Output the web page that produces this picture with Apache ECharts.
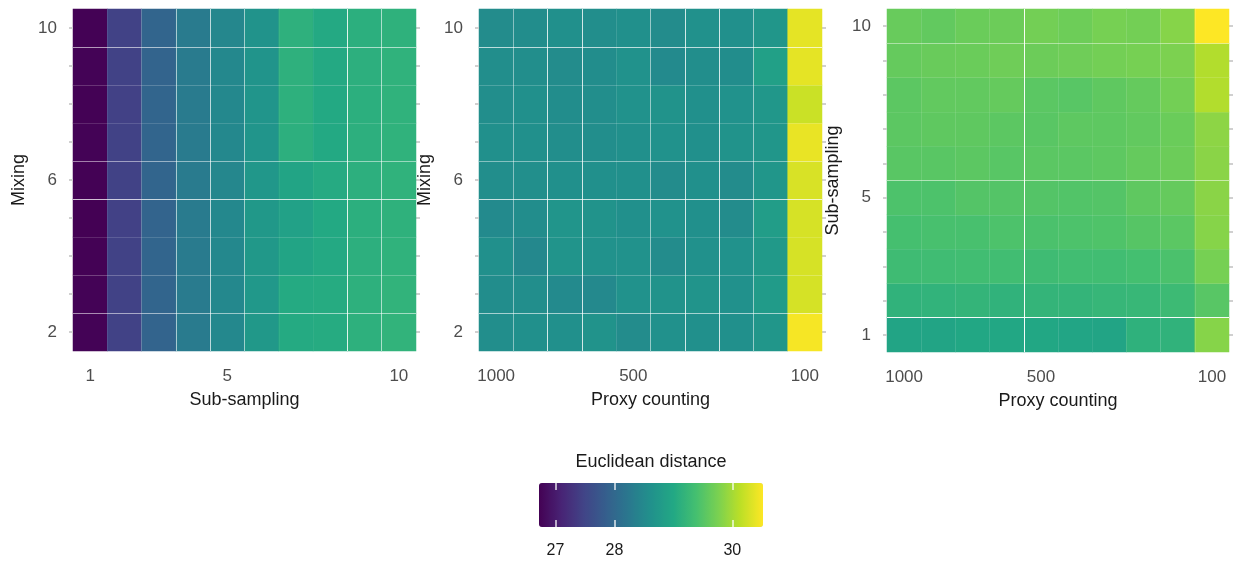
<!DOCTYPE html>
<html>
<head>
<meta charset="utf-8">
<script src="https://cdn.jsdelivr.net/npm/echarts@6/dist/echarts.min.js"></script>
<style>
  html, body { margin: 0; padding: 0; background: #fff; }
  #chart { width: 1240px; height: 562px; }
</style>
</head>
<body>
<div id="chart"></div>
<script>
// axis categories and the labels shown on them
const subSampling = ['1', '2', '3', '4', '5', '6', '7', '8', '9', '10'];
const subSamplingTicks = ['1', '', '', '', '5', '', '', '', '', '10'];
const mixing = ['2', '3', '4', '5', '6', '7', '8', '9', '10'];
const mixingTicks = ['2', '', '', '', '6', '', '', '', '10'];
const proxySteps = ['1', '2', '3', '4', '5', '6', '7', '8', '9', '10'];
const proxyTicks = ['1000', '', '', '', '500', '', '', '', '', '100'];
const distanceTicks = [27, 28, 30];
const distanceMin = 26.72;
const distanceMax = 30.52;

// panel 1: rows = mixing 2..10, columns = sub-sampling 1..10
const mixSub2  = [26.74, 27.46, 27.94, 28.29, 28.49, 28.74, 29.03, 29.05, 29.13, 29.18];
const mixSub3  = [26.74, 27.46, 27.95, 28.29, 28.48, 28.73, 29.03, 29.05, 29.13, 29.18];
const mixSub4  = [26.73, 27.46, 27.95, 28.28, 28.49, 28.74, 28.93, 29.02, 29.12, 29.16];
const mixSub5  = [26.72, 27.45, 27.94, 28.29, 28.48, 28.74, 28.88, 29.01, 29.11, 29.15];
const mixSub6  = [26.73, 27.46, 27.95, 28.28, 28.47, 28.72, 28.93, 29.04, 29.12, 29.16];
const mixSub7  = [26.74, 27.46, 27.95, 28.29, 28.48, 28.68, 29.12, 29.01, 29.12, 29.16];
const mixSub8  = [26.73, 27.45, 27.95, 28.28, 28.48, 28.68, 29.13, 29.01, 29.11, 29.16];
const mixSub9  = [26.74, 27.46, 27.94, 28.29, 28.48, 28.67, 29.14, 29.02, 29.12, 29.16];
const mixSub10 = [26.73, 27.46, 27.95, 28.28, 28.47, 28.66, 29.14, 29.02, 29.11, 29.15];

// panel 2: rows = mixing 2..10, columns = proxy counting 1000..100
const mixProxy2  = [28.58, 28.60, 28.60, 28.65, 28.54, 28.62, 28.60, 28.60, 28.70, 30.48];
const mixProxy3  = [28.56, 28.58, 28.52, 28.50, 28.64, 28.66, 28.67, 28.62, 28.78, 30.28];
const mixProxy4  = [28.60, 28.48, 28.67, 28.64, 28.64, 28.55, 28.62, 28.63, 28.75, 30.29];
const mixProxy5  = [28.52, 28.56, 28.68, 28.66, 28.61, 28.63, 28.60, 28.55, 28.82, 30.29];
const mixProxy6  = [28.58, 28.59, 28.60, 28.61, 28.60, 28.54, 28.60, 28.55, 28.70, 30.30];
const mixProxy7  = [28.60, 28.61, 28.58, 28.57, 28.61, 28.63, 28.60, 28.66, 28.70, 30.40];
const mixProxy8  = [28.58, 28.60, 28.56, 28.57, 28.63, 28.66, 28.61, 28.63, 28.72, 30.22];
const mixProxy9  = [28.57, 28.58, 28.55, 28.56, 28.64, 28.52, 28.58, 28.56, 28.86, 30.38];
const mixProxy10 = [28.55, 28.56, 28.60, 28.58, 28.60, 28.54, 28.62, 28.60, 28.70, 30.38];

// panel 3: rows = sub-sampling 1..10, columns = proxy counting 1000..100
const subProxy1  = [28.93, 28.94, 28.99, 28.99, 28.99, 28.95, 28.94, 29.15, 29.17, 29.83];
const subProxy2  = [29.17, 29.18, 29.20, 29.17, 29.20, 29.20, 29.23, 29.25, 29.30, 29.52];
const subProxy3  = [29.32, 29.33, 29.35, 29.35, 29.32, 29.35, 29.35, 29.38, 29.43, 29.73];
const subProxy4  = [29.39, 29.41, 29.41, 29.44, 29.43, 29.44, 29.46, 29.51, 29.54, 29.83];
const subProxy5  = [29.44, 29.44, 29.49, 29.49, 29.49, 29.48, 29.49, 29.57, 29.61, 29.85];
const subProxy6  = [29.53, 29.53, 29.55, 29.52, 29.54, 29.54, 29.56, 29.61, 29.66, 29.85];
const subProxy7  = [29.55, 29.57, 29.57, 29.55, 29.53, 29.56, 29.56, 29.59, 29.65, 29.87];
const subProxy8  = [29.55, 29.59, 29.59, 29.61, 29.54, 29.52, 29.57, 29.61, 29.71, 30.08];
const subProxy9  = [29.61, 29.64, 29.65, 29.68, 29.66, 29.68, 29.71, 29.73, 29.77, 30.08];
const subProxy10 = [29.63, 29.59, 29.65, 29.66, 29.71, 29.67, 29.73, 29.71, 29.83, 30.52];

const mixSubRows = [mixSub2, mixSub3, mixSub4, mixSub5, mixSub6, mixSub7, mixSub8, mixSub9, mixSub10];
const mixProxyRows = [mixProxy2, mixProxy3, mixProxy4, mixProxy5, mixProxy6, mixProxy7, mixProxy8, mixProxy9, mixProxy10];
const subProxyRows = [subProxy1, subProxy2, subProxy3, subProxy4, subProxy5, subProxy6, subProxy7, subProxy8, subProxy9, subProxy10];

const viridis = ['#440154', '#482475', '#414487', '#355f8d', '#2a788e', '#21918c',
  '#22a884', '#44bf70', '#7ad151', '#bddf26', '#fde725'];

const FONT = 'Liberation Sans, Arial, sans-serif';

function toCells(rows) {
  const out = [];
  rows.forEach((row, y) => row.forEach((v, x) => out.push([x, y, v])));
  return out;
}

// white seams between tiles, one alpha per boundary
function seams(alphas) {
  return alphas.map(a => 'rgba(255,255,255,' + a + ')');
}

function catX(gridIndex, data, ticks, name, lineAlphas) {
  return {
    type: 'category', gridIndex: gridIndex, data: data, z: 5,
    name: name, nameLocation: 'middle', nameGap: 40,
    nameTextStyle: { fontSize: 18, color: '#1a1a1a', fontFamily: FONT },
    axisLine: { show: false },
    axisTick: { show: false },
    axisLabel: {
      interval: 0, margin: 17, fontSize: 17, color: '#4d4d4d', fontFamily: FONT,
      formatter: (v, i) => ticks[i]
    },
    splitLine: { show: true, interval: 0, lineStyle: { width: 1, color: seams(lineAlphas) } }
  };
}

function catY(gridIndex, data, ticks, name, lineAlphas) {
  return {
    type: 'category', gridIndex: gridIndex, data: data, z: 5,
    name: name, nameLocation: 'middle', nameGap: 45,
    nameTextStyle: { fontSize: 18, color: '#1a1a1a', fontFamily: FONT },
    axisLine: { show: false },
    axisTick: { show: true, alignWithLabel: true, interval: 0, length: 4, lineStyle: { color: '#d0d0d0', width: 2 } },
    axisLabel: {
      interval: 0, margin: 16, fontSize: 17, color: '#4d4d4d', fontFamily: FONT,
      formatter: (v, i) => ticks[i]
    },
    splitLine: { show: true, interval: 0, lineStyle: { width: 1, color: seams(lineAlphas) } }
  };
}

function rightTicks(gridIndex, data) {
  return {
    type: 'category', gridIndex: gridIndex, data: data, position: 'right',
    axisLine: { show: false },
    axisTick: { show: true, alignWithLabel: true, interval: 0, length: 4, lineStyle: { color: '#d0d0d0', width: 2 } },
    axisLabel: { show: false },
    splitLine: { show: false }
  };
}

function heat(i, rows) {
  return {
    type: 'heatmap', xAxisIndex: i, yAxisIndex: i * 2, data: toCells(rows),
    itemStyle: { borderWidth: 0 },
    emphasis: { disabled: true },
    progressive: 0
  };
}

const chart = echarts.init(document.getElementById('chart'));

chart.setOption({
  backgroundColor: '#fff',
  animation: false,
  title: {
    text: 'Euclidean distance', left: 651, top: 453, textAlign: 'center', padding: 0,
    textStyle: { fontSize: 18, fontWeight: 'normal', color: '#1a1a1a', fontFamily: FONT }
  },
  grid: [
    { left: 73, top: 9, width: 343, height: 342 },
    { left: 479, top: 9, width: 343, height: 342 },
    { left: 887, top: 9, width: 342, height: 343 },
    { left: 539, top: 483, width: 224, height: 44 }
  ],
  xAxis: [
    catX(0, subSampling, subSamplingTicks, 'Sub-sampling', [0, 0.08, 0.2, 0.6, 0.7, 0.55, 0.05, 0.05, 0.85, 0.6, 0]),
    catX(1, proxySteps, proxyTicks, 'Proxy counting', [0, 0.45, 0.8, 0.8, 0.12, 0.5, 0.8, 0.8, 0.5, 0, 0]),
    catX(2, proxySteps, proxyTicks, 'Proxy counting', [0, 0.12, 0.08, 0.08, 0.95, 0.12, 0.08, 0.08, 0.15, 0.15, 0]),
    {
      type: 'value', gridIndex: 3, min: distanceMin, max: distanceMax, position: 'bottom', z: 10,
      axisLine: { show: false },
      splitLine: { show: false },
      axisTick: { show: true, inside: true, length: 7, customValues: distanceTicks, lineStyle: { color: 'rgba(255,255,255,0.85)', width: 1.5 } },
      axisLabel: { customValues: distanceTicks, margin: 16, fontSize: 16, color: '#1a1a1a', fontFamily: FONT }
    },
    {
      type: 'value', gridIndex: 3, min: distanceMin, max: distanceMax, position: 'top', z: 10,
      axisLine: { show: false },
      splitLine: { show: false },
      axisTick: { show: true, inside: true, length: 7, customValues: distanceTicks, lineStyle: { color: 'rgba(255,255,255,0.85)', width: 1.5 } },
      axisLabel: { show: false }
    }
  ],
  yAxis: [
    catY(0, mixing, mixingTicks, 'Mixing', [0, 0.55, 0.25, 0.15, 0.75, 0.5, 0.15, 0.2, 0.6, 0]),
    rightTicks(0, mixing),
    catY(1, mixing, mixingTicks, 'Mixing', [0, 0.6, 0.25, 0.15, 0.75, 0.45, 0.2, 0.2, 0.7, 0]),
    rightTicks(1, mixing),
    catY(2, subSampling, subSamplingTicks, 'Sub-sampling', [0, 0.95, 0.08, 0.08, 0.12, 0.5, 0.08, 0.08, 0.08, 0.45, 0]),
    rightTicks(2, subSampling),
    { type: 'value', gridIndex: 3, show: false, min: 0, max: 1 }
  ],
  visualMap: {
    type: 'continuous', min: distanceMin, max: distanceMax, seriesIndex: [0, 1, 2],
    orient: 'horizontal', left: 539, top: 483, itemWidth: 44, itemHeight: 224, padding: 0,
    calculable: false, hoverLink: false, text: null,
    inRange: { color: viridis }
  },
  series: [
    heat(0, mixSubRows),
    heat(1, mixProxyRows),
    heat(2, subProxyRows)
  ]
});
</script>
</body>
</html>
